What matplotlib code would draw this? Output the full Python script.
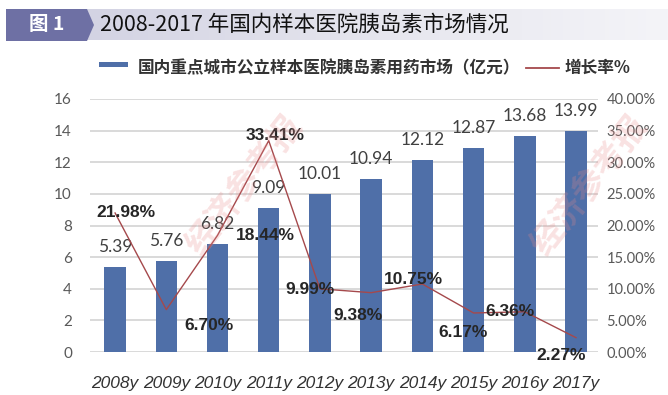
import matplotlib
matplotlib.use('Agg')
import matplotlib.pyplot as plt
from matplotlib.patches import Rectangle, Polygon
from matplotlib.lines import Line2D
import numpy as np

plt.rcParams['font.family'] = ['Noto Sans CJK SC', 'DejaVu Sans']

years = ['2008y', '2009y', '2010y', '2011y', '2012y',
         '2013y', '2014y', '2015y', '2016y', '2017y']
market = [5.39, 5.76, 6.82, 9.09, 10.01, 10.94, 12.12, 12.87, 13.68, 13.99]
growth = [21.98, 6.70, 18.44, 33.41, 9.99, 9.38, 10.75, 6.17, 6.36, 2.27]
left_ticks = [0, 2, 4, 6, 8, 10, 12, 14, 16]
right_ticks = [0, 5, 10, 15, 20, 25, 30, 35, 40]

title = '2008-2017 年国内样本医院胰岛素市场情况'
bar_label = '国内重点城市公立样本医院胰岛素用药市场（亿元）'
line_label = '增长率%'

# pixel offsets for the growth labels
label_offsets = [(11, 0), (43, -16), (48, 0), (6, 5), (-10, -1),
                 (-13, -23), (-9, 5), (-10, -20), (-15, 0), (-15, -18)]

BAR = '#4f6fa8'
LINE = '#a5494c'
GRID = '#d9d9d9'
TICK = '#595959'

fig = plt.figure(figsize=(6.68, 3.95), dpi=100)
W, H = 668, 395


def fx(px):
    return px / W


def fy(py):
    return 1 - py / H


# title banner
grad = np.linspace(0, 1, 256).reshape(1, -1)
band = fig.add_axes([fx(86), fy(40), fx(668 - 86), (31 / H)])
band.imshow(grad, aspect='auto', cmap=matplotlib.colors.LinearSegmentedColormap.from_list(
    'b', ['#d3d3e3', '#e6e6ee', '#f4f4f8']), extent=[0, 1, 0, 1])
band.axis('off')
fig.patches.append(Polygon([(fx(6), fy(9)), (fx(87), fy(9)), (fx(94), fy(25)),
                            (fx(87), fy(41)), (fx(6), fy(41))],
                           closed=True, transform=fig.transFigure,
                           facecolor='#6e70a4', edgecolor='none'))
fig.text(fx(47), fy(25), '图 1', color='white', fontsize=14, fontweight='bold',
         ha='center', va='center')
fig.text(fx(100), fy(25), title, color='#111111', fontsize=15.5,
         ha='left', va='center')

# main axes
ax = fig.add_axes([fx(90), fy(352), fx(598 - 90), (352 - 99) / H])
x = np.arange(len(years))
ax.bar(x, market, width=0.42, color=BAR, zorder=3)
ax.set_xlim(-0.49, 9.43)
ax.set_ylim(0, 16)
ax.set_yticks(left_ticks)
ax.set_yticklabels([str(t) for t in left_ticks], family='Lato',
                   fontsize=11, color=TICK)
ax.yaxis.grid(True, color=GRID, linewidth=1.4, zorder=0)
ax.set_axisbelow(True)
for s in ax.spines.values():
    s.set_visible(False)
ax.tick_params(length=0)
ax.tick_params(axis='y', pad=13)
ax.set_xticks(x)
ax.set_xticklabels(years, family='Liberation Sans', style='italic',
                   fontsize=12.5, color='#333333')
ax.tick_params(axis='x', pad=17)

for xi, v in zip(x, market):
    ax.annotate(f'{v:.2f}', (xi, v), xytext=(0, 20), textcoords='offset pixels',
                ha='center', va='center', family='Lato', fontsize=12.5,
                color='#404040', zorder=5)

ax2 = ax.twinx()
ax2.plot(x, np.array(growth) / 100, color=LINE, linewidth=1.0, zorder=4)
ax2.set_ylim(0, 0.40)
ax2.set_yticks(np.array(right_ticks) / 100)
ax2.set_yticklabels([f'{t:.2f}%' for t in right_ticks], family='Lato',
                    fontsize=10.5, color=TICK)
for s in ax2.spines.values():
    s.set_visible(False)
ax2.tick_params(length=0, pad=6)

for xi, g, off in zip(x, growth, label_offsets):
    ax2.annotate(f'{g:.2f}%', (xi, g / 100), xytext=off,
                 textcoords='offset pixels', ha='center', va='center',
                 family='Liberation Sans', fontweight='bold', fontsize=12.5,
                 color='#262626', zorder=6)

# legend
fig.patches.append(Rectangle((fx(99), fy(67)), fx(29), 5 / H,
                             transform=fig.transFigure, facecolor=BAR,
                             edgecolor='none'))
fig.text(fx(138), fy(68), bar_label, fontsize=12, color='#333333',
         fontweight='bold', ha='left', va='center')
fig.lines.append(Line2D([fx(526), fx(559)], [fy(68), fy(68)],
                        transform=fig.transFigure, color=LINE, linewidth=1.3))
fig.text(fx(565), fy(68), line_label, fontsize=12, color='#333333',
         fontweight='bold', ha='left', va='center')

# faint watermark
for cx, cy in [(245, 185), (590, 185)]:
    fig.text(fx(cx), fy(cy), '经济参考报', fontsize=24, color='#e88a8a',
             alpha=0.25, rotation=52, ha='center', va='center',
             fontweight='bold', zorder=10)

fig.savefig('out.png', dpi=100)
